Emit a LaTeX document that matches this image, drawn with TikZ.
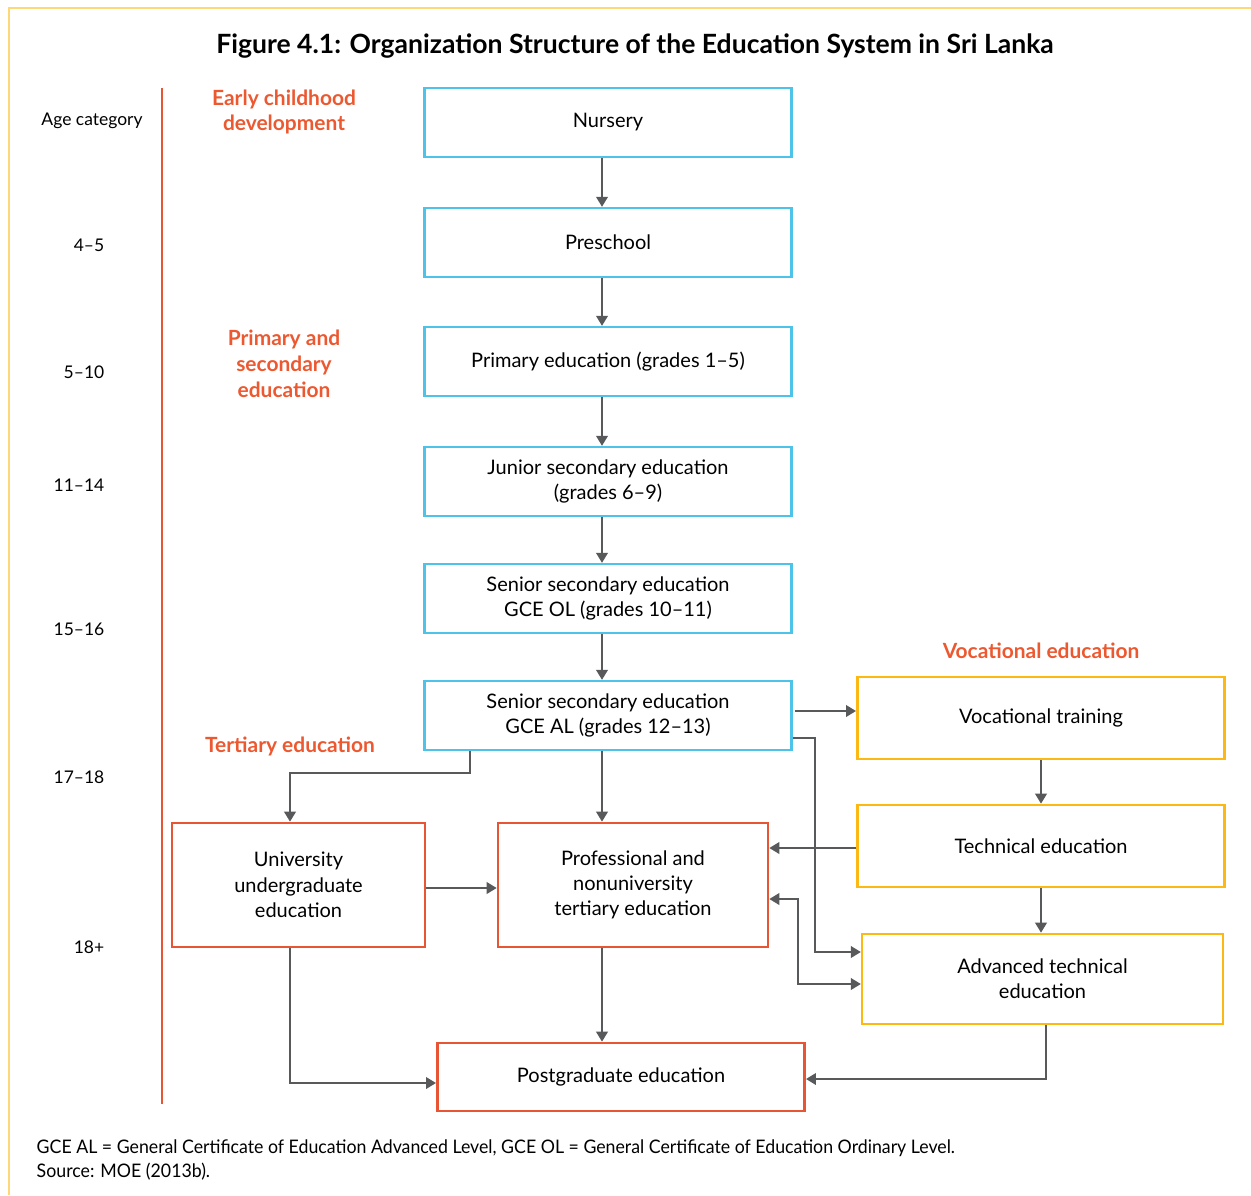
\documentclass[tikz,border=0pt]{standalone}
\usepackage{fontspec}
\setmainfont{Lato}
\usetikzlibrary{arrows.meta}
\definecolor{cblue}{RGB}{77,195,233}
\definecolor{cyel}{RGB}{253,185,19}
\definecolor{cred}{RGB}{232,85,52}
\definecolor{corg}{RGB}{236,88,48}
\definecolor{cgray}{RGB}{88,89,91}
\definecolor{cframe}{RGB}{253,215,120}
\tikzset{
  box/.style={draw, line width=1.9pt, align=center, inner sep=0pt,
     font=\fontsize{15}{19}\selectfont, text=black},
  bluebox/.style={box, draw=cblue, minimum width=275.5pt, minimum height=51.5pt},
  yelbox/.style={box, draw=cyel},
  redbox/.style={box, draw=cred},
  arr/.style={draw=cgray, line width=1.8pt, -{Triangle[length=7.5pt,width=8.5pt]}},
  arrb/.style={draw=cgray, line width=1.8pt, {Triangle[length=7.5pt,width=8.5pt]}-{Triangle[length=7.5pt,width=8.5pt]}},
  agelab/.style={font=\fontsize{13.1}{15}\selectfont, text=black},
  head/.style={font=\fontsize{15.7}{19.3}\selectfont\bfseries, text=corg, align=center},
}
\begin{document}
\begin{tikzpicture}[x=0.75pt,y=-0.75pt]
\useasboundingbox (0,0) rectangle (1251,1195);
% frame
\draw[cframe, line width=1.8pt] (9,1195) -- (9,8) -- (1251,8);
% title
\node (title) at (635,46) {\fontsize{19.9}{22}\selectfont\bfseries Figure 4.1: Organization Structure of the Education System in Sri Lanka};
% red vertical line
\coordinate (vtop) at (162,88);
\coordinate (vbot) at (162,1104);
\draw[cred, line width=1.9pt] (vtop) -- (vbot);
% age labels
\node[agelab] (a0) at (92,121) {Age category};
\node[agelab] (a1) at (89,245) {4–5};
\node[agelab] (a2) at (84,372) {5–10};
\node[agelab] (a3) at (79,485) {11–14};
\node[agelab] (a4) at (79,629) {15–16};
\node[agelab] (a5) at (79,777) {17–18};
\node[agelab] (a6) at (89,947) {18+};
% headings
\node[head] (h1) at (284,112) {Early childhood\\development};
\node[head] (h2) at (284,364) {Primary and\\secondary\\education};
\node[head] (h3) at (290,746) {Tertiary education};
\node[head] (h4) at (1041,651) {Vocational education};
% blue boxes
\node[bluebox] (nur) at (608,122.5) {Nursery};
\node[bluebox] (pre) at (608,242.5) {Preschool};
\node[bluebox] (pri) at (608,361.5) {Primary education (grades 1–5)};
\node[bluebox] (jun) at (608,481.5) {Junior secondary education\\(grades 6–9)};
\node[bluebox] (ol) at (608,598.5) {Senior secondary education\\GCE OL (grades 10–11)};
\node[bluebox] (al) at (608,715.5) {Senior secondary education\\GCE AL (grades 12–13)};
% yellow boxes
\node[yelbox, minimum width=275.5pt, minimum height=61.5pt] (voc) at (1041,718) {Vocational training};
\node[yelbox, minimum width=275.5pt, minimum height=61.5pt] (tech) at (1041,846) {Technical education};
\node[yelbox, minimum width=270.5pt, minimum height=67.5pt] (adv) at (1042.5,979) {Advanced technical\\education};
% red boxes
\node[redbox, minimum width=189.5pt, minimum height=93pt] (uni) at (298.5,885) {University\\undergraduate\\education};
\node[redbox, minimum width=202.5pt, minimum height=93pt] (prof) at (633,885) {Professional and\\nonuniversity\\tertiary education};
\node[redbox, minimum width=275.5pt, minimum height=51pt] (post) at (621,1077) {Postgraduate education};
% arrows
\draw[arr] (602,0 |- nur.south) -- (602,0 |- pre.north);
\draw[arr] (602,0 |- pre.south) -- (602,0 |- pri.north);
\draw[arr] (602,0 |- pri.south) -- (602,0 |- jun.north);
\draw[arr] (602,0 |- jun.south) -- (602,0 |- ol.north);
\draw[arr] (602,0 |- ol.south) -- (602,0 |- al.north);
\draw[arr] (602,0 |- al.south) -- (602,0 |- prof.north);
\coordinate (c1) at (290,773);
\draw[arr] (470,0 |- al.south) |- (c1) -- (290,0 |- uni.north);
\draw[arr] (795,711) -- (voc.west |- 0,711);
\coordinate (c2) at (815,952);
\draw[arr] (al.east |- 0,738) -| (c2) -- (adv.west |- 0,952);
\draw[arr] (tech.west |- 0,848) -- (prof.east |- 0,848);
\coordinate (c3) at (798,899);
\draw[arrb] (adv.west |- 0,984) -| (c3) -- (prof.east |- 0,899);
\draw[arr] (uni.east |- 0,888) -- (prof.west |- 0,888);
\draw[arr] (1041,0 |- voc.south) -- (1041,0 |- tech.north);
\draw[arr] (1041,0 |- tech.south) -- (1041,0 |- adv.north);
\draw[arr] (290,0 |- uni.south) |- (post.west |- 0,1083);
\draw[arr] (602,0 |- prof.south) -- (602,0 |- post.north);
\draw[arr] (1046,0 |- adv.south) |- (post.east |- 0,1079);
% footer
\node[anchor=west, font=\fontsize{14}{16}\selectfont] (f1) at (32,1148) {\scalebox{0.95}[1]{GCE AL = General Certificate of Education Advanced Level, GCE OL = General Certificate of Education Ordinary Level.}};
\node[anchor=west, font=\fontsize{14}{16}\selectfont] (f2) at (32,1172) {\scalebox{0.95}[1]{Source: MOE (2013b).}};
\end{tikzpicture}
\end{document}
